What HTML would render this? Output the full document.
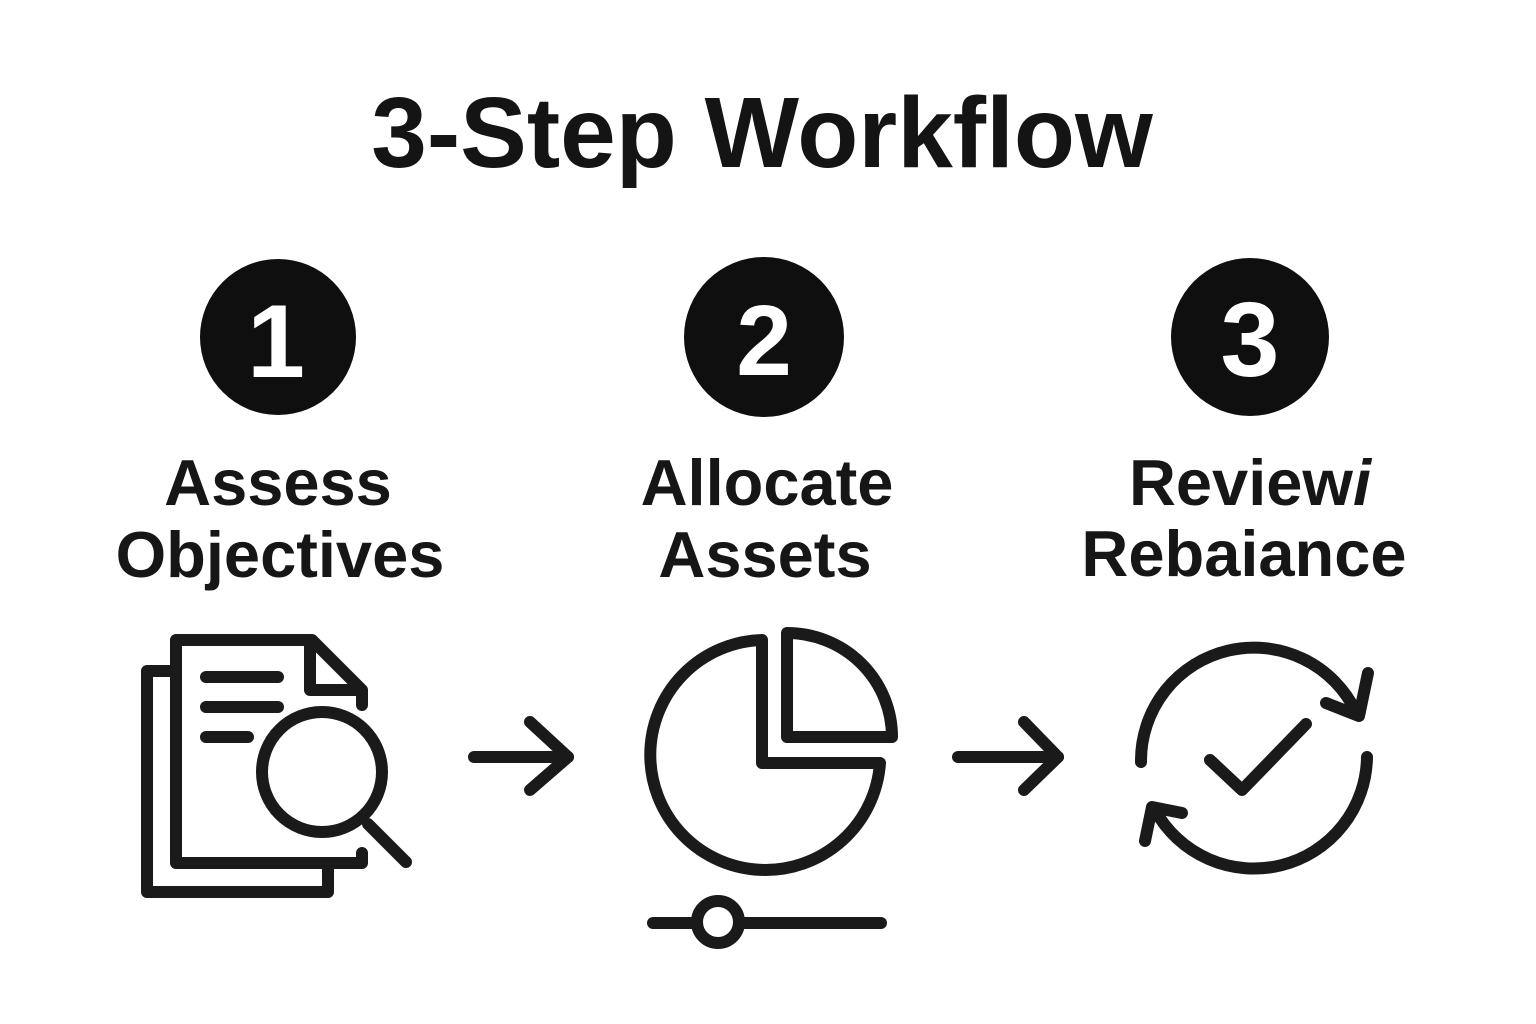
<!DOCTYPE html>
<html>
<head>
<meta charset="utf-8">
<style>
  html,body{margin:0;padding:0;background:#ffffff;}
  body{width:1536px;height:1024px;overflow:hidden;}
  svg{display:block;}
  text{font-family:"Liberation Sans", Arial, sans-serif;font-weight:bold;}
</style>
</head>
<body>
<svg width="1536" height="1024" viewBox="0 0 1536 1024" xmlns="http://www.w3.org/2000/svg">
  <rect width="1536" height="1024" fill="#ffffff"/>

  <!-- Title -->
  <text x="762" y="167" font-size="100" text-anchor="middle" fill="#141414">3-Step Workflow</text>

  <!-- Number circles -->
  <circle cx="278" cy="337" r="78" fill="#0f0f0f"/>
  <text x="276" y="377" font-size="104" text-anchor="middle" fill="#ffffff">1</text>

  <circle cx="764" cy="337" r="80" fill="#0f0f0f"/>
  <text x="764" y="375" font-size="100" text-anchor="middle" fill="#ffffff">2</text>

  <circle cx="1250" cy="337" r="79" fill="#0f0f0f"/>
  <text x="1250" y="376" font-size="106" text-anchor="middle" fill="#ffffff">3</text>

  <!-- Labels -->
  <g font-size="65" fill="#161616" text-anchor="middle">
    <text x="278" y="505">Assess</text>
    <text x="280" y="577">Objectives</text>
    <text x="767" y="505">Allocate</text>
    <text x="765" y="577">Assets</text>
    <text x="1250" y="505">Review<tspan font-style="italic">i</tspan></text>
    <text x="1244" y="576">Rebaiance</text>
  </g>

  <g fill="none" stroke="#1a1a1a" stroke-width="12" stroke-linecap="round" stroke-linejoin="round">
    <!-- Icon 1: documents + magnifier -->
    <path d="M170 671 L147 671 L147 892 L328 892 L328 868"/>
    <path d="M362 853 L362 863 L176 863 L176 640 L312 640 L362 690 L362 705"/>
    <path d="M310 642 L310 690 L360 690"/>
    <line x1="206" y1="677" x2="278" y2="677" stroke-width="12"/>
    <line x1="206" y1="707" x2="278" y2="707" stroke-width="12"/>
    <line x1="206" y1="737" x2="248" y2="737" stroke-width="12"/>
    <circle cx="322" cy="772" r="60"/>
    <line x1="368" y1="824" x2="406" y2="862"/>

    <!-- Arrow 1 -->
    <path d="M474 757 L568 757"/>
    <path d="M530 722 L568 757 L530 790"/>

    <!-- Icon 2: pie chart -->
    <path d="M762 640 L762 763 L880 763 A115 115 0 1 1 762 640"/>
    <path d="M787 737 L787 633 A105 104 0 0 1 892 737 Z"/>
    <line x1="653" y1="923" x2="881" y2="923"/>
    <circle cx="718" cy="922" r="21" fill="#ffffff"/>

    <!-- Arrow 2 -->
    <path d="M958 757 L1058 757"/>
    <path d="M1024 722 L1058 757 L1024 790"/>

    <!-- Icon 3: refresh with check -->
    <path d="M1141 762 A113 113 0 0 1 1356 712"/>
    <path d="M1368 673 L1359 716 L1326 703"/>
    <path d="M1367 757 A113 113 0 0 1 1155 810"/>
    <path d="M1182 813 L1152 807 L1145 841"/>
    <path d="M1210 760 L1242 790 L1306 724" stroke-width="12"/>
  </g>
</svg>
</body>
</html>
